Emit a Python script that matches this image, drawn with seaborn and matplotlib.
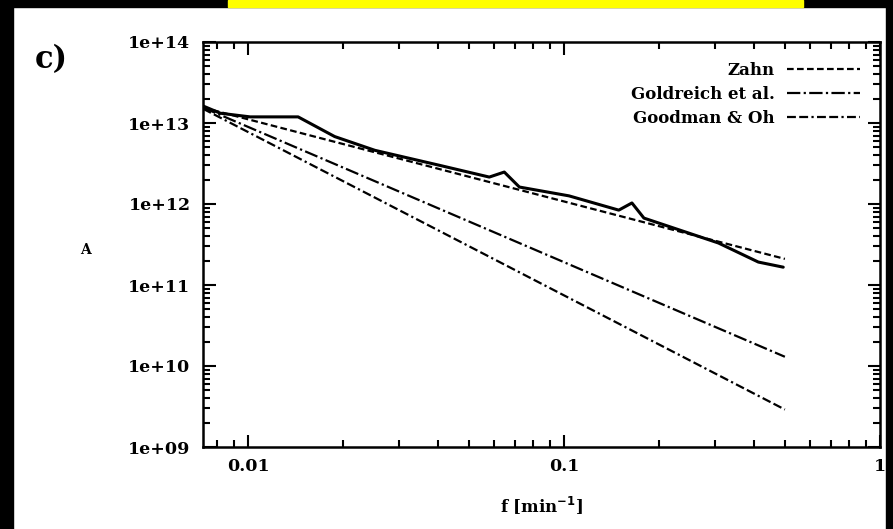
import numpy as np
import pandas as pd
import matplotlib
matplotlib.use("Agg")
import matplotlib.pyplot as plt
import seaborn as sns
from matplotlib.patches import Rectangle
from matplotlib.ticker import LogLocator, FixedLocator, NullFormatter, FixedFormatter

# ---- data ----
data_f = [0.00721, 0.00817, 0.01015, 0.0144, 0.0188, 0.0252, 0.0404, 0.058,
          0.0647, 0.0722, 0.1037, 0.149, 0.164, 0.179, 0.308, 0.412, 0.494]
data_A = [1.62e13, 1.32e13, 1.19e13, 1.19e13, 6.8e12, 4.6e12, 3.0e12, 2.15e12,
          2.48e12, 1.62e12, 1.26e12, 8.4e11, 1.03e12, 6.7e11, 3.3e11, 1.92e11, 1.66e11]

zahn_f = [0.0072, 0.5]
zahn_A = [1.55e13, 2.1e11]
goldreich_f = [0.0072, 0.5]
goldreich_A = [1.55e13, 1.3e10]
goodman_f = [0.0072, 0.5]
goodman_A = [1.50e13, 2.9e9]

x_ticks = [0.01, 0.1, 1]
x_ticklabels = ["0.01", "0.1", "1"]
y_ticks = [1e9, 1e10, 1e11, 1e12, 1e13, 1e14]
y_ticklabels = ["1e+09", "1e+10", "1e+11", "1e+12", "1e+13", "1e+14"]

sns.set_theme(style="ticks")
plt.rcParams['font.family'] = ['DejaVu Serif']
plt.rcParams['font.weight'] = 'bold'
plt.rcParams['text.color'] = 'black'
plt.rcParams['axes.labelcolor'] = 'black'

fig = plt.figure(figsize=(8.93, 5.29), dpi=100)
fig.patch.set_facecolor("white")
ax = fig.add_axes([203/893, 1-447/529, (880-203)/893, (447-42)/529])

df_data = pd.DataFrame({"f": data_f, "A": data_A})
sns.lineplot(data=df_data, x="f", y="A", ax=ax, color="black", lw=2.2,
             sort=False, estimator=None)
series = [("Zahn", zahn_f, zahn_A, (3, 1.5)),
          ("Goldreich et al.", goldreich_f, goldreich_A, (6, 1.5, 1, 1.5)),
          ("Goodman & Oh", goodman_f, goodman_A, (4, 1.5, 4, 1.5, 1, 1.5))]
for name, fx, fy, dash in series:
    d = pd.DataFrame({"f": fx, "A": fy})
    sns.lineplot(data=d, x="f", y="A", ax=ax, color="black", lw=1.6,
                 label=name, estimator=None)
    ln = ax.get_lines()[-1]
    ln.set_dashes(dash)

ax.set_xscale("log")
ax.set_yscale("log")
ax.set_xlim(0.0072, 1.0)
ax.set_ylim(1e9, 1e14)

ax.xaxis.set_major_locator(FixedLocator(x_ticks))
ax.xaxis.set_major_formatter(FixedFormatter(x_ticklabels))
ax.yaxis.set_major_locator(FixedLocator(y_ticks))
ax.yaxis.set_major_formatter(FixedFormatter(y_ticklabels))
ax.xaxis.set_minor_locator(LogLocator(base=10, subs=np.arange(2, 10), numticks=20))
ax.yaxis.set_minor_locator(LogLocator(base=10, subs=np.arange(2, 10), numticks=20))
ax.xaxis.set_minor_formatter(NullFormatter())
ax.yaxis.set_minor_formatter(NullFormatter())

ax.tick_params(which="both", direction="in", top=True, right=True, width=1.5,
               labelsize=12.5, colors="black", labelcolor="black")
ax.tick_params(which="major", length=9)
ax.tick_params(which="minor", length=5)
ax.tick_params(axis="y", pad=9)
ax.tick_params(axis="x", pad=8)
for s in ax.spines.values():
    s.set_linewidth(1.8)
    s.set_color("black")
for lab in ax.get_xticklabels() + ax.get_yticklabels():
    lab.set_fontweight("bold")

ax.set_xlabel(r"f [min$^{-1}$]", fontsize=12, fontweight="bold", labelpad=14,
              color="black")
ax.set_ylabel("")
fig.text(85/893, 1-250/529, "A", fontsize=10, fontweight="bold",
         ha="center", va="center", color="black")

leg = ax.legend(loc="upper right", frameon=False, markerfirst=False,
                fontsize=12, handlelength=4.4, borderaxespad=0.8,
                labelspacing=0.42, handletextpad=0.7,
                bbox_to_anchor=(1.0, 1.0))
for t in leg.get_texts():
    t.set_fontweight("bold")
    t.set_color("black")

fig.text(35/893, 1-60/529, "c)", fontsize=22, fontweight="bold",
         ha="left", va="center", color="black")

# decorative frame bands from the reference image
fig.patches.append(Rectangle((0, 1-7/529), 1, 7/529, transform=fig.transFigure,
                             color="black", zorder=10))
fig.patches.append(Rectangle((228/893, 1-7/529), (803-228)/893, 7/529,
                             transform=fig.transFigure, color="#ffff00", zorder=11))
fig.patches.append(Rectangle((0, 0), 13/893, 1, transform=fig.transFigure,
                             color="black", zorder=10))
fig.patches.append(Rectangle((886/893, 0), 7/893, 1, transform=fig.transFigure,
                             color="black", zorder=10))

fig.savefig("out.png", dpi=100)
